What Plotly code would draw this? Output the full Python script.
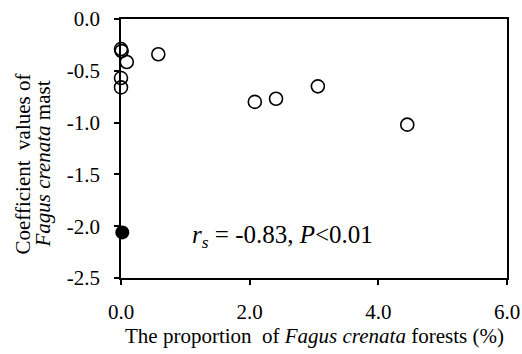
import plotly.graph_objects as go

open_x = [0.0, 0.01, 0.09, 0.58, 0.0, 0.0, 2.08, 2.41, 3.06, 4.45]
open_y = [-0.29, -0.31, -0.415, -0.34, -0.57, -0.66, -0.80, -0.77, -0.65, -1.02]
filled_x = [0.02]
filled_y = [-2.06]

x_ticks = [0, 2, 4, 6]
x_ticktext = ["0.0", "2.0", "4.0", "6.0"]
y_ticks = [0, -0.5, -1.0, -1.5, -2.0, -2.5]
y_ticktext = ["0.0", "-0.5", "-1.0", "-1.5", "-2.0", "-2.5"]

FONT = "Liberation Serif, Times New Roman, serif"
W, H = 522, 354
ML, MR, MT, MB = 121, 15, 19, 76

fig = go.Figure()
fig.add_trace(go.Scatter(
    x=open_x, y=open_y, mode="markers", cliponaxis=False,
    marker=dict(symbol="circle-open", size=13, color="black", line=dict(width=1.6, color="black")),
    showlegend=False))
fig.add_trace(go.Scatter(
    x=filled_x, y=filled_y, mode="markers", cliponaxis=False,
    marker=dict(symbol="circle", size=14, color="black"),
    showlegend=False))

fig.add_annotation(
    x=1.08, y=-2.1, xref="x", yref="y", xanchor="left", yanchor="middle",
    text="<i>r<sub>s</sub></i> = -0.83, <i>P</i><0.01",
    showarrow=False, font=dict(family=FONT, size=25, color="black"))

# axis titles
fig.add_annotation(
    x=0.5, y=0, xref="paper", yref="paper", xanchor="center", yanchor="middle",
    yshift=-58, showarrow=False,
    text="The proportion  of <i>Fagus crenata</i> forests (%)",
    font=dict(family=FONT, size=21, color="black"))
fig.add_annotation(
    x=0, y=0.5, xref="paper", yref="paper", xanchor="center", yanchor="middle",
    xshift=-(ML - 22), yshift=-16, showarrow=False, textangle=-90,
    text="Coefficient  values of",
    font=dict(family=FONT, size=21, color="black"))
fig.add_annotation(
    x=0, y=0.5, xref="paper", yref="paper", xanchor="center", yanchor="middle",
    xshift=-(ML - 42), yshift=-16, showarrow=False, textangle=-90,
    text="<i>Fagus crenata</i> mast",
    font=dict(family=FONT, size=21, color="black"))

fig.update_layout(
    width=W, height=H,
    margin=dict(l=ML, r=MR, t=MT, b=MB),
    paper_bgcolor="white", plot_bgcolor="white",
    font=dict(family=FONT, size=21, color="black"),
    xaxis=dict(
        range=[0, 6], tickvals=x_ticks, ticktext=x_ticktext,
        showgrid=False, zeroline=False, automargin=False,
        showline=True, linecolor="black", linewidth=1.5, mirror=True,
        ticks="outside", ticklen=5, tickwidth=1.5, tickcolor="black",
        ticklabelstandoff=9,
    ),
    yaxis=dict(
        range=[-2.5, 0], tickvals=y_ticks, ticktext=y_ticktext,
        showgrid=False, zeroline=False, automargin=False,
        showline=True, linecolor="black", linewidth=1.5, mirror=True,
        ticks="outside", ticklen=5, tickwidth=1.5, tickcolor="black",
        ticklabelstandoff=10,
    ),
)

fig.write_html("out.html")
